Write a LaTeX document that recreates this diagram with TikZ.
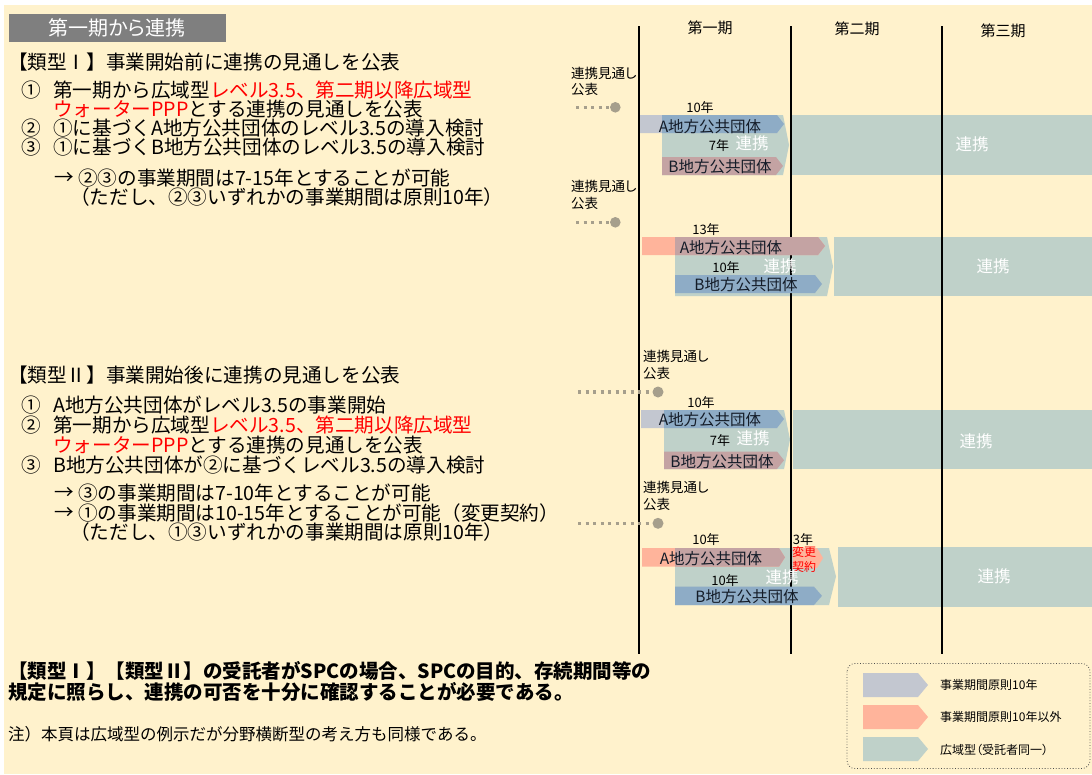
\documentclass[tikz,border=0pt]{standalone}
\usepackage{fontspec}
\setmainfont{Noto Sans CJK JP}
\newfontfamily\jpp{Noto Sans CJK JP}[RawFeature=+palt]
\definecolor{cream}{RGB}{255,242,204}
\definecolor{titlegray}{RGB}{127,127,127}
\definecolor{tealc}{RGB}{191,209,201}
\definecolor{grayc}{RGB}{195,199,208}
\definecolor{salmonc}{RGB}{255,180,155}
\definecolor{bluec}{RGB}{142,172,198}
\definecolor{rosec}{RGB}{196,163,163}
\definecolor{dotc}{RGB}{166,159,140}
\definecolor{inkc}{RGB}{20,28,40}
\newcommand{\chv}[6][]{\fill[#1] (#2,#3) -- ({#4-#6},#3) -- (#4,{(#3+#5)/2}) -- ({#4-#6},#5) -- (#2,#5) -- cycle;}
\tikzset{
  body/.style={anchor=west, inner sep=0pt, font=\fontsize{19.6}{19.6}\selectfont, text=black},
  lbl/.style={anchor=west, inner sep=0pt, font=\jpp\fontsize{13.5}{13.5}\selectfont, text=black},
  yr/.style={inner sep=0pt, font=\jpp\fontsize{13}{13}\selectfont, text=black},
  org/.style={inner sep=0pt, font=\jpp\fontsize{15.5}{15.5}\selectfont, text=inkc},
  lnk/.style={inner sep=0pt, font=\jpp\fontsize{16.5}{16.5}\selectfont, text=white},
  hdr/.style={inner sep=0pt, font=\jpp\fontsize{15}{15}\selectfont, text=black},
  leg/.style={anchor=west, inner sep=0pt, font=\jpp\fontsize{12}{12}\selectfont, text=black},
  dotline/.style={line width=3.2pt, dash pattern=on 3.3pt off 4.2pt, draw=dotc},
  period/.style={line width=2.6pt, draw=black},
}
\begin{document}
\begin{tikzpicture}[x=1pt,y=-1pt]
\useasboundingbox (0,0) rectangle (1092,774);
\fill[white] (0,0) rectangle (1092,774);
\fill[cream] (4,5) rectangle (1092,774);
% title
\fill[titlegray] (9,14) rectangle (226,42);
\node[inner sep=0pt, text=white, font=\jpp\fontsize{20}{20}\selectfont] (title) at (117,28) {第一期から連携};
% left text, type I
\node[body] (t1) at (8,62) {【類型Ⅰ】事業開始前に連携の見通しを公表};
\node[body] (n11) at (21,90) {①};
\node[body] (t11) at (53,90) {第一期から広域型\textcolor{red}{レベル3.5、第二期以降広域型}};
\node[body] (t11b) at (53,109) {\textcolor{red}{ウォーターPPP}とする連携の見通しを公表};
\node[body] (n12) at (21,128) {②};
\node[body] (t12) at (53,128) {①に基づくA地方公共団体のレベル3.5の導入検討};
\node[body] (n13) at (21,147) {③};
\node[body] (t13) at (53,147) {①に基づくB地方公共団体のレベル3.5の導入検討};
\node[body] (a1) at (54,178) {→};
\node[body] (t14) at (78,178) {②③の事業期間は7-15年とすることが可能};
\node[body] (t15) at (70,197) {（ただし、②③いずれかの事業期間は原則10年）};
% left text, type II
\node[body] (t2) at (8,375) {【類型Ⅱ】事業開始後に連携の見通しを公表};
\node[body] (n21) at (21,405) {①};
\node[body] (t21) at (53,405) {A地方公共団体がレベル3.5の事業開始};
\node[body] (n22) at (21,425) {②};
\node[body] (t22) at (53,425) {第一期から広域型\textcolor{red}{レベル3.5、第二期以降広域型}};
\node[body] (t22b) at (53,445) {\textcolor{red}{ウォーターPPP}とする連携の見通しを公表};
\node[body] (n23) at (21,465) {③};
\node[body] (t23) at (53,465) {B地方公共団体が②に基づくレベル3.5の導入検討};
\node[body] (a2) at (54,493) {→};
\node[body] (t24) at (78,493) {③の事業期間は7-10年とすることが可能};
\node[body] (a3) at (54,513) {→};
\node[body] (t25) at (78,513) {①の事業期間は10-15年とすることが可能（変更契約）};
\node[body] (t26) at (70,532) {（ただし、①③いずれかの事業期間は原則10年）};
% bottom
\node[body, font=\fontsize{19.5}{19.5}\selectfont\bfseries] (b1) at (8,671) {【類型Ⅰ】【類型Ⅱ】の受託者がSPCの場合、SPCの目的、存続期間等の};
\node[body, font=\fontsize{19.5}{19.5}\selectfont\bfseries] (b2) at (8,692) {規定に照らし、連携の可否を十分に確認することが必要である。};
\node[body, font=\fontsize{16.5}{16.5}\selectfont] (note) at (8,734) {注）本頁は広域型の例示だが分野横断型の考え方も同様である。};
% teal (broad-area) shapes
\chv[tealc]{662}{115}{789}{175}{6}
\fill[tealc] (792,115) rectangle (1092,175);
\chv[tealc]{675}{237}{833}{296}{6}
\fill[tealc] (834,237) rectangle (1092,296);
\chv[tealc]{664}{410}{790}{469}{6}
\fill[tealc] (793,410) rectangle (1092,469);
\chv[tealc]{675}{548}{836}{605}{7}
\fill[tealc] (838,547) rectangle (1092,606.5);
% period lines
\draw[period] (639,26) -- (639,654);
\draw[period] (791,26) -- (791,654);
\draw[period] (942,26) -- (942,654);
\node[hdr] (h1) at (710,28) {第一期};
\node[hdr] (h2) at (857,29) {第二期};
\node[hdr] (h3) at (1003,31) {第三期};
% I-1 arrows
\chv[grayc]{640}{115}{784}{133}{7}
\chv[bluec]{662}{115}{784}{133}{7}
\chv[rosec]{662}{157}{783}{175}{7}
% I-2 arrows
\chv[salmonc]{642}{237}{825}{255}{7}
\chv[rosec]{675}{237}{825}{255}{7}
\chv[bluec]{675}{275}{822}{293}{7}
% II-1 arrows
\chv[grayc]{641}{410}{784}{428}{7}
\chv[bluec]{664}{410}{784}{428}{7}
\chv[rosec]{664}{451.5}{784}{469}{7}
% II-2 arrows
\chv[salmonc]{642}{548}{785}{566.7}{6}
\chv[rosec]{675}{548}{785}{566.7}{6}
\chv[salmonc]{793}{548}{823}{568}{6}
\chv[bluec]{675}{586.7}{822}{605}{8}
% announcement markers
\node[lbl] (m1a) at (571,73.5) {連携見通し};
\node[lbl] (m1b) at (571,89.5) {公表};
\coordinate (d1s) at (576,107.3);
\fill[dotc] (615.3,107.3) circle (5.3);
\draw[dotline] (d1s) -- (610,107.3);
\node[lbl] (m2a) at (571,186) {連携見通し};
\node[lbl] (m2b) at (571,203) {公表};
\coordinate (d2s) at (576,222.3);
\fill[dotc] (615.3,222.3) circle (5.3);
\draw[dotline] (d2s) -- (610,222.3);
\node[lbl] (m3a) at (643,356) {連携見通し};
\node[lbl] (m3b) at (643,373) {公表};
\coordinate (d3s) at (578,392);
\fill[dotc] (658,392) circle (5.5);
\draw[dotline] (d3s) -- (652,392);
\node[lbl] (m4a) at (643,487) {連携見通し};
\node[lbl] (m4b) at (643,504) {公表};
\coordinate (d4s) at (578,523.3);
\fill[dotc] (658,523.3) circle (5.5);
\draw[dotline] (d4s) -- (652,523.3);
% I-1 texts
\node[yr] (y11) at (700,108) {10年};
\node[org] (o11) at (710,126.5) {A地方公共団体};
\node[yr] (y12) at (719,146) {7年};
\node[lnk] (l11) at (752,143.5) {連携};
\node[org] (o12) at (720,166.5) {B地方公共団体};
\node[lnk] (l12) at (972,144) {連携};
% I-2 texts
\node[yr] (y21) at (706,230) {13年};
\node[org] (o21) at (731,247.5) {A地方公共団体};
\node[yr] (y22) at (726,268) {10年};
\node[lnk] (l21) at (780,266) {連携};
\node[org] (o22) at (746,285) {B地方公共団体};
\node[lnk] (l22) at (993,266) {連携};
% II-1 texts
\node[yr] (y31) at (701,402.7) {10年};
\node[org] (o31) at (710,420) {A地方公共団体};
\node[yr] (y32) at (720,441) {7年};
\node[lnk] (l31) at (753,438.7) {連携};
\node[org] (o32) at (722,461.5) {B地方公共団体};
\node[lnk] (l32) at (976,441) {連携};
% II-2 texts
\node[yr] (y41) at (706,540) {10年};
\node[yr] (y43) at (803,540) {3年};
\node[inner sep=0pt, text=red, font=\jpp\fontsize{12}{12}\selectfont] (c41) at (804,552) {変更};
\node[inner sep=0pt, text=red, font=\jpp\fontsize{12}{12}\selectfont] (c42) at (804,567) {契約};
\node[org] (o41) at (711,558.5) {A地方公共団体};
\node[lnk] (l41) at (782,577) {連携};
\node[yr] (y42) at (725,581) {10年};
\node[org] (o42) at (747,597) {B地方公共団体};
\node[lnk] (l42) at (994,576) {連携};
% legend
\draw[dotted, line width=0.8pt, draw=black!70, rounded corners=8pt] (847,663.5) rectangle (1090,768.5);
\chv[grayc]{863}{673}{928}{697}{10}
\chv[salmonc]{863}{705}{928}{729}{10}
\chv[tealc]{863}{737}{928}{761}{10}
\node[leg] (g1) at (940,685) {事業期間原則10年};
\node[leg] (g2) at (940,717) {事業期間原則10年以外};
\node[leg] (g3) at (940,749.5) {広域型（受託者同一）};
\end{tikzpicture}
\end{document}
